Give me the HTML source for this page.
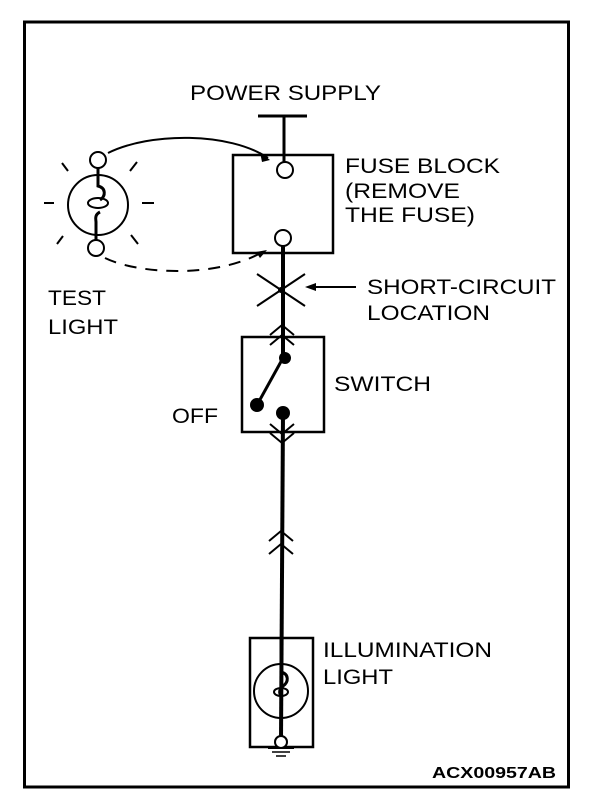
<!DOCTYPE html>
<html><head><meta charset="utf-8"><style>
html,body{margin:0;padding:0;background:#fff;}
svg{display:block}
text{font-family:"Liberation Sans",sans-serif;font-size:21px;fill:#000}
</style></head><body>
<svg width="608" height="812" viewBox="0 0 608 812" xmlns="http://www.w3.org/2000/svg">
<rect x="24.5" y="22" width="544" height="765" fill="none" stroke="#000" stroke-width="3"/>
<text x="190" y="100" textLength="191" lengthAdjust="spacingAndGlyphs">POWER SUPPLY</text>
<g stroke="#000" fill="none">
<line x1="258" y1="116" x2="307" y2="116" stroke-width="3"/>
<line x1="284" y1="116" x2="284" y2="162" stroke-width="3"/>
<rect x="233" y="155" width="100" height="98" stroke-width="2.5"/>
<line x1="283" y1="246" x2="283" y2="358" stroke-width="4"/>
<line x1="283" y1="413" x2="281" y2="740" stroke-width="4"/>
<line x1="257" y1="274" x2="305" y2="306" stroke-width="2"/>
<line x1="257" y1="306" x2="305" y2="274" stroke-width="2"/>
<line x1="308" y1="287" x2="356" y2="287" stroke-width="2"/>
<polyline points="270,335 282,325 294,335" stroke-width="2"/>
<polyline points="270,345 282,335 294,345" stroke-width="2"/>
<rect x="242" y="337" width="82" height="95" stroke-width="2.5"/>
<line x1="283" y1="358" x2="257" y2="405" stroke-width="3"/>
<polyline points="270,433 282,443 294,433" stroke-width="2"/>
<polyline points="270,424 282,434 294,424" stroke-width="2"/>
<polyline points="269,541 281,531 293,541" stroke-width="2"/>
<polyline points="269,554 281,544 293,554" stroke-width="2"/>
<rect x="250" y="638" width="63" height="109" stroke-width="2.5"/>
<circle cx="281" cy="691" r="27" stroke-width="2"/>
<line x1="281" y1="638" x2="281" y2="672" stroke-width="3"/>
<path d="M281,672 c8,2 8,10 2,14 c-4,3 -4,7 -2,10 v14" stroke-width="3" fill="none"/>
<ellipse cx="281" cy="692" rx="7" ry="4" stroke-width="2"/>
<line x1="281" y1="710" x2="281" y2="742" stroke-width="3"/>
<line x1="268" y1="748" x2="294" y2="748" stroke-width="2"/>
<line x1="272" y1="752" x2="290" y2="752" stroke-width="1.5"/>
<line x1="276" y1="756" x2="286" y2="756" stroke-width="1.5"/>
<circle cx="98" cy="205" r="30" stroke-width="2"/>
<path d="M98,168 v18 c8,2 8,10 2,14" stroke-width="3"/>
<path d="M100,212 c-6,3 -4,8 -4,10 v26" stroke-width="3"/>
<ellipse cx="98" cy="203" rx="10" ry="5" stroke-width="2"/>
<line x1="44" y1="203" x2="54" y2="203" stroke-width="2"/>
<line x1="142" y1="203" x2="154" y2="203" stroke-width="2"/>
<line x1="62" y1="163" x2="68" y2="171" stroke-width="2"/>
<line x1="137" y1="162" x2="130" y2="171" stroke-width="2"/>
<line x1="57" y1="244" x2="63" y2="236" stroke-width="2"/>
<line x1="131" y1="235" x2="138" y2="244" stroke-width="2"/>
<path d="M108,153 C150,132 230,132 268,158" stroke-width="2"/>
<path d="M105,258 C140,275 220,278 264,251" stroke-width="2" stroke-dasharray="12,9"/>
</g>
<g fill="#fff" stroke="#000" stroke-width="2">
<circle cx="285" cy="170" r="8"/>
<circle cx="283" cy="238" r="8"/>
<circle cx="98" cy="160" r="8"/>
<circle cx="96" cy="248" r="8"/>
<circle cx="281" cy="742" r="6"/>
</g>
<g fill="#000">
<circle cx="285" cy="358" r="6"/>
<circle cx="257" cy="405" r="7"/>
<circle cx="283" cy="413" r="7"/>
<polygon points="305,287 316,283 316,291"/>
<polygon points="270,160 260,152 262,162"/>
<polygon points="267,250 256,252 260,258"/>
<circle cx="281" cy="290" r="3"/>
</g>
<text x="345" y="173" textLength="155" lengthAdjust="spacingAndGlyphs">FUSE BLOCK</text>
<text x="345" y="198" textLength="115" lengthAdjust="spacingAndGlyphs">(REMOVE</text>
<text x="345" y="222" textLength="130" lengthAdjust="spacingAndGlyphs">THE FUSE)</text>
<text x="367" y="294" textLength="189" lengthAdjust="spacingAndGlyphs">SHORT-CIRCUIT</text>
<text x="367" y="320" textLength="123" lengthAdjust="spacingAndGlyphs">LOCATION</text>
<text x="334" y="391" textLength="97" lengthAdjust="spacingAndGlyphs">SWITCH</text>
<text x="172" y="423" textLength="46" lengthAdjust="spacingAndGlyphs">OFF</text>
<text x="48" y="305" textLength="58" lengthAdjust="spacingAndGlyphs">TEST</text>
<text x="48" y="334" textLength="70" lengthAdjust="spacingAndGlyphs">LIGHT</text>
<text x="323" y="657" textLength="169" lengthAdjust="spacingAndGlyphs">ILLUMINATION</text>
<text x="323" y="684" textLength="70" lengthAdjust="spacingAndGlyphs">LIGHT</text>
<text x="432" y="778" style="font-size:16px;font-weight:bold" textLength="124" lengthAdjust="spacingAndGlyphs">ACX00957AB</text>
</svg>
</body></html>
